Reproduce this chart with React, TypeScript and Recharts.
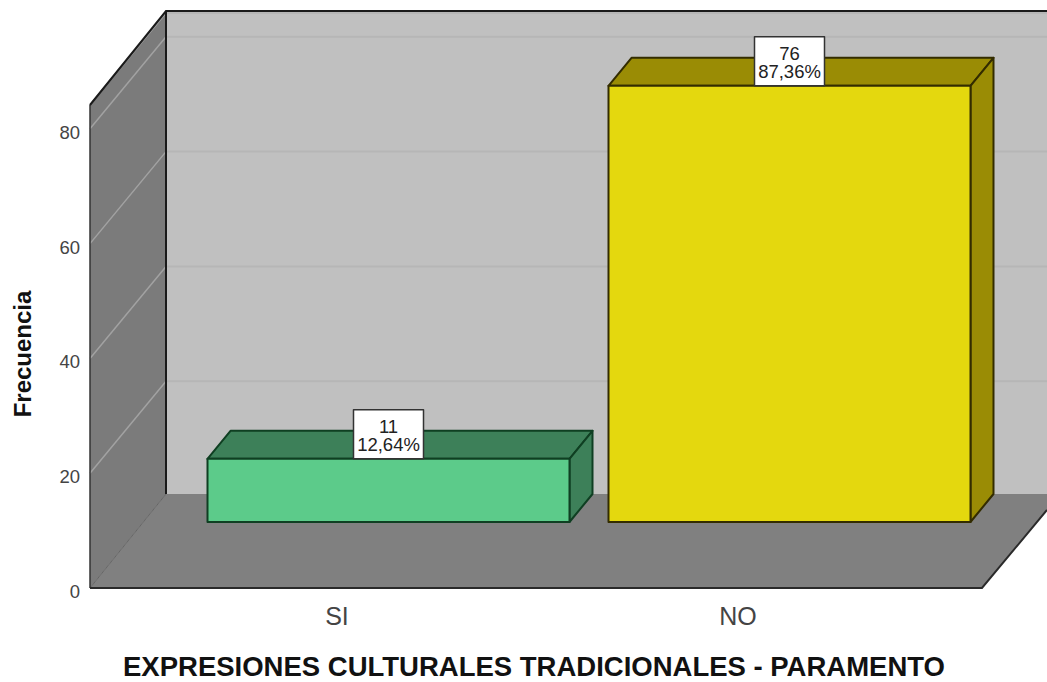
import { BarChart, Bar, XAxis, YAxis, CartesianGrid } from 'recharts';

const categories = ['SI', 'NO'];
const frequencies = [11, 76];
const percentages = ['12,64%', '87,36%'];
const yTicks = [0, 20, 40, 60, 80];

const chartData = categories.map((name, i) => ({
  name,
  frecuencia: frequencies[i],
  porcentaje: percentages[i],
}));

const FONT = '"Liberation Sans", Arial, sans-serif';
const BAR_COLORS: Record<string, { front: string; dark: string; line: string }> = {
  SI: { front: '#5ccb8a', dark: '#3d8059', line: '#0f3f22' },
  NO: { front: '#e4d80e', dark: '#9a8c05', line: '#332c00' },
};

// plot area = front plane of the 3D box
const LEFT = 90;
const RIGHT = 982;
const TOP = 105;
const BOTTOM = 588;
const BACK_X = 76; // front plane to back wall
const BACK_Y = -94;
const GRID_BACK_Y = -92;
const BAR_OFF_X = 51; // bars stand in the middle of the floor
const BAR_OFF_Y = -66;
const BAR_DEPTH_X = 23;
const BAR_DEPTH_Y = -28;

function Backdrop() {
  const bx = LEFT + BACK_X;
  return (
    <g>
      <rect x={bx} y={TOP + BACK_Y} width={1047 - bx} height={BOTTOM - TOP} fill="#c0c0c0" />
      <polygon points={`${LEFT},${TOP} ${bx},${TOP + BACK_Y} ${bx},${BOTTOM + BACK_Y} ${LEFT},${BOTTOM}`} fill="#7b7b7b" />
      <polygon
        points={`${LEFT},${BOTTOM} ${RIGHT},${BOTTOM} 1047,510 1047,${BOTTOM + BACK_Y} ${bx},${BOTTOM + BACK_Y}`}
        fill="#808080"
      />
    </g>
  );
}

function Frame() {
  const bx = LEFT + BACK_X;
  return (
    <g fill="none">
      <line x1={LEFT} y1={BOTTOM} x2={bx} y2={BOTTOM + BACK_Y} stroke="#666" strokeWidth={1} />
      <line x1={LEFT} y1={TOP} x2={LEFT} y2={BOTTOM} stroke="#333" strokeWidth={1.5} />
      <polyline points={`${LEFT},${TOP} ${bx},${TOP + BACK_Y} 1047,${TOP + BACK_Y}`} stroke="#1a1a1a" strokeWidth={2} />
      <line x1={bx} y1={TOP + BACK_Y} x2={bx} y2={BOTTOM + BACK_Y} stroke="#1a1a1a" strokeWidth={2} />
      <polyline points={`${LEFT},${BOTTOM} ${RIGHT},${BOTTOM} 1047,510`} stroke="#2a2a2a" strokeWidth={2} />
    </g>
  );
}

// grid line runs across the side wall and then along the back wall
// the walls go in with the first line so they stay under the grid
function GridLine(props: any) {
  const bx = LEFT + BACK_X;
  const y = props.y1;
  return (
    <g>
      {props.index === 0 && <Backdrop />}
      {y < BOTTOM - 5 && (
        <>
          <line x1={LEFT} y1={y} x2={bx} y2={y + GRID_BACK_Y} stroke="#a2a2a2" strokeWidth={1.5} />
          <line x1={bx} y1={y + GRID_BACK_Y} x2={1047} y2={y + GRID_BACK_Y} stroke="#b6b6b6" strokeWidth={2} />
        </>
      )}
    </g>
  );
}

function Bar3D(props: any) {
  const { width, height, payload } = props;
  const x = props.x + BAR_OFF_X;
  const y = props.y + BAR_OFF_Y;
  const c = BAR_COLORS[payload.name];
  const dx = BAR_DEPTH_X;
  const dy = BAR_DEPTH_Y;
  const cx = x + width / 2;
  return (
    <g stroke={c.line} strokeWidth={2} strokeLinejoin="round">
      <polygon points={`${x},${y} ${x + width},${y} ${x + width + dx},${y + dy} ${x + dx},${y + dy}`} fill={c.dark} />
      <polygon
        points={`${x + width},${y} ${x + width + dx},${y + dy} ${x + width + dx},${y + height + dy} ${x + width},${y + height}`}
        fill={c.dark}
      />
      <rect x={x} y={y} width={width} height={height} fill={c.front} />
      <rect x={cx - 35} y={y - 49} width={70} height={49} fill="#fff" stroke="#333" strokeWidth={1.5} />
      <text textAnchor="middle" fontFamily={FONT} fontSize={18.5} fill="#222" stroke="none">
        <tspan x={cx} y={y - 26}>{payload.frecuencia}</tspan>
        <tspan x={cx} y={y - 8}>{payload.porcentaje}</tspan>
      </text>
    </g>
  );
}

function YTick(props: any) {
  return (
    <text x={80} y={props.y + 10} textAnchor="end" fontFamily={FONT} fontSize={18.5} fill="#444">
      {props.payload.value}
    </text>
  );
}

function XTick(props: any) {
  return (
    <text x={props.x} y={625} textAnchor="middle" fontFamily={FONT} fontSize={25} fill="#444">
      {props.payload.value}
    </text>
  );
}

export default function App() {
  return (
    <div style={{ position: 'absolute', left: 0, top: 0, background: '#fff' }}>
      <BarChart
        width={1047}
        height={682}
        data={chartData}
        margin={{ top: TOP, right: 1047 - RIGHT, bottom: 0, left: 0 }}
        barSize={362}
      >
        <CartesianGrid vertical={false} horizontal={(p: any) => <GridLine key={p.index} {...p} />} />
        <XAxis
          dataKey="name"
          height={682 - BOTTOM}
          axisLine={false}
          tickLine={false}
          padding={{ left: 46.5, right: 43.5 }}
          tick={<XTick />}
        />
        <YAxis
          domain={[0, 84.15]}
          ticks={yTicks}
          width={LEFT}
          axisLine={false}
          tickLine={false}
          tick={<YTick />}
        />
        <Frame />
        <Bar dataKey="frecuencia" shape={<Bar3D />} isAnimationActive={false} />
        <text x={534} y={676} textAnchor="middle" fontFamily={FONT} fontSize={27.5} fontWeight="bold" fill="#111">
          EXPRESIONES CULTURALES TRADICIONALES - PARAMENTO
        </text>
        <text
          x={31}
          y={354}
          textAnchor="middle"
          fontFamily={FONT}
          fontSize={24}
          fontWeight="bold"
          fill="#111"
          transform="rotate(-90 31 354)"
        >
          Frecuencia
        </text>
      </BarChart>
    </div>
  );
}
